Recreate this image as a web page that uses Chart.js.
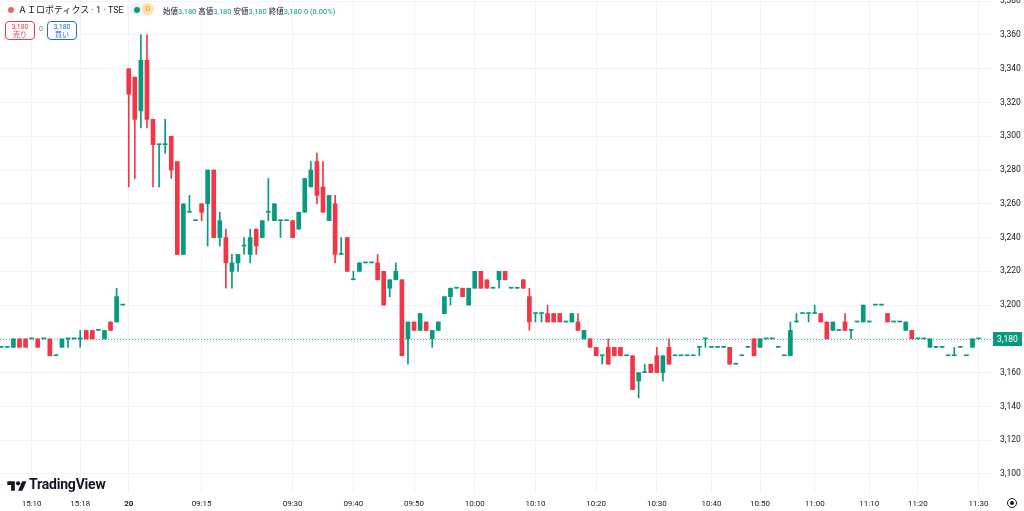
<!DOCTYPE html>
<html>
<head>
<meta charset="utf-8">
<script src="https://cdn.jsdelivr.net/npm/chart.js@4"></script>
<style>
  html, body { margin: 0; padding: 0; background: #fff; }
  #wrap { position: relative; width: 1024px; height: 511px; overflow: hidden;
          font-family: Roboto, "Noto Sans CJK JP", sans-serif; color: #131722; }
  #c { position: absolute; left: 0; top: 0; }
  .abs { position: absolute; white-space: nowrap; }
  .dot { display: inline-block; width: 6px; height: 6px; border-radius: 50%; }
  .up { color: #089981; }
  .btn { position: absolute; top: 21px; width: 28px; height: 16px; border-radius: 4px;
         font-size: 7px; line-height: 8px; text-align: center; padding-top: 1px; background: #fff; }
</style>
</head>
<body>
<div id="wrap">
  <canvas id="c" width="1024" height="511"></canvas>

  <!-- legend, top left -->
  <span class="abs dot" style="left:8px;top:7px;background:#f23645;opacity:.8"></span>
  <span class="abs" style="left:18px;top:3px;font-size:9px;">ＡＩロボティクス · 1 · TSE</span>
  <span class="abs" style="left:130px;top:3px;width:23px;height:13px;border-radius:7px;background:#f0f3fa;"></span>
  <span class="abs dot" style="left:134px;top:7px;background:#089981;"></span>
  <span class="abs" style="left:142px;top:3px;width:12px;height:12px;border-radius:50%;background:#ffe0b2;color:#ff9800;font-size:7.5px;line-height:12px;text-align:center;">D</span>
  <span class="abs" style="left:163px;top:5px;font-size:7.5px;">始値<span class="up">3,180</span> 高値<span class="up">3,180</span> 安値<span class="up">3,180</span> 終値<span class="up">3,180</span> <span class="up">0 (0.00%)</span></span>

  <div class="btn" style="left:5px;border:1px solid #f23645;color:#f23645;">3,180<br>売り</div>
  <span class="abs" style="left:39px;top:25px;font-size:7px;color:#787b86;">0</span>
  <div class="btn" style="left:47px;border:1px solid #2962ff;color:#2962ff;">3,180<br>買い</div>

  <!-- logo -->
  <svg class="abs" style="left:7px;top:479px" width="20" height="14" viewBox="0 0 36 26">
    <path d="M14 22H7V11H0V4h14v18z" fill="#131722"/>
    <circle cx="20" cy="8" r="4" fill="#131722"/>
    <path d="M28 22h-8l7.5-18h8L28 22z" fill="#131722"/>
  </svg>
  <span class="abs" style="left:29px;top:476px;font-size:14px;font-weight:700;letter-spacing:-0.2px;">TradingView</span>

  <!-- settings icon, bottom right -->
  <span class="abs" style="left:1007px;top:498px;width:8px;height:8px;border:1px solid #131722;border-radius:50%;"></span>
  <span class="abs" style="left:1010px;top:501px;width:4px;height:4px;background:#131722;border-radius:50%;"></span>
</div>

<script>
// time axis: bar index -> label
const tickIdx  = [5, 13, 21, 33, 48, 58, 68, 78, 88, 98, 108, 117, 125, 134, 143, 151, 161];
const tickText = ['15:10', '15:18', '20', '09:15', '09:30', '09:40', '09:50', '10:00', '10:10',
                  '10:20', '10:30', '10:40', '10:50', '11:00', '11:10', '11:20', '11:30'];
const priceTicks = [3100, 3120, 3140, 3160, 3180, 3200, 3220, 3240, 3260, 3280, 3300, 3320, 3340, 3360, 3380];

// 1 minute bars
const opens = [
  3175,3175,3175,3180,3180,3180,3180,3180,3180,3170,
  3175,3180,3180,3180,3185,3185,3185,3180,3190,3190,
  3200,3340,3335,3315,3345,3310,3295,3295,3300,3285,
  3230,3255,3250,3260,3260,3280,3240,3240,3220,3225,
  3235,3230,3245,3240,3255,3250,3250,3250,3250,3245,
  3255,3270,3285,3270,3250,3260,3230,3240,3215,3220,
  3225,3225,3225,3220,3210,3215,3215,3180,3190,3185,
  3190,3180,3185,3195,3205,3210,3210,3200,3210,3220,
  3215,3210,3215,3220,3210,3210,3215,3205,3195,3195,
  3195,3195,3195,3190,3190,3190,3180,3180,3175,3170,
  3175,3175,3175,3170,3170,3155,3160,3165,3170,3160,
  3175,3170,3170,3170,3170,3175,3180,3175,3175,3175,
  3175,3165,3170,3175,3180,3175,3180,3180,3175,3170,
  3170,3190,3195,3195,3195,3195,3190,3185,3185,3190,
  3185,3190,3190,3190,3200,3200,3195,3190,3190,3185,
  3185,3180,3180,3175,3175,3175,3170,3170,3175,3170,
  3175,3180
];
const highs = [
  3175,3175,3180,3180,3180,3180,3180,3180,3180,3170,
  3180,3180,3180,3185,3185,3185,3185,3185,3190,3210,
  3200,3340,3335,3360,3360,3310,3295,3310,3300,3285,
  3260,3265,3250,3260,3280,3280,3255,3245,3230,3230,
  3240,3245,3245,3250,3275,3260,3250,3250,3250,3255,
  3275,3285,3290,3285,3265,3265,3240,3240,3220,3225,
  3225,3225,3230,3220,3215,3225,3215,3190,3190,3195,
  3190,3185,3190,3205,3210,3210,3210,3210,3220,3220,
  3215,3210,3220,3220,3210,3210,3215,3210,3195,3195,
  3200,3195,3195,3190,3195,3195,3185,3180,3175,3170,
  3180,3175,3175,3170,3170,3160,3165,3165,3175,3170,
  3180,3170,3170,3170,3170,3175,3180,3175,3175,3175,
  3175,3165,3170,3175,3180,3180,3180,3180,3175,3170,
  3190,3195,3195,3195,3200,3195,3190,3190,3185,3195,
  3185,3190,3200,3190,3200,3200,3195,3190,3190,3190,
  3185,3180,3180,3180,3175,3175,3170,3175,3175,3170,
  3180,3180
];
const lows = [
  3175,3175,3175,3175,3175,3180,3175,3180,3170,3170,
  3175,3175,3180,3175,3180,3180,3185,3180,3185,3190,
  3200,3270,3275,3305,3305,3270,3270,3290,3275,3230,
  3230,3255,3250,3250,3235,3240,3235,3210,3210,3220,
  3230,3225,3230,3240,3250,3250,3240,3250,3240,3245,
  3255,3270,3260,3255,3250,3225,3230,3220,3215,3220,
  3225,3225,3215,3200,3205,3215,3170,3165,3185,3185,
  3185,3175,3185,3195,3200,3210,3205,3200,3210,3210,
  3210,3210,3210,3215,3210,3210,3210,3185,3190,3190,
  3190,3190,3190,3190,3190,3185,3180,3175,3170,3165,
  3165,3170,3170,3170,3150,3145,3160,3160,3160,3155,
  3165,3170,3170,3170,3170,3170,3175,3175,3175,3175,
  3165,3165,3170,3175,3170,3175,3180,3180,3175,3170,
  3170,3190,3195,3190,3195,3190,3180,3185,3185,3185,
  3180,3190,3190,3190,3200,3200,3190,3190,3190,3185,
  3180,3180,3180,3175,3175,3175,3170,3170,3175,3170,
  3175,3180
];
const closes = [
  3175,3175,3180,3175,3175,3180,3175,3180,3170,3170,
  3180,3180,3180,3180,3180,3180,3185,3185,3185,3205,
  3200,3325,3310,3345,3310,3295,3295,3295,3280,3230,
  3260,3255,3250,3255,3280,3240,3250,3225,3225,3230,
  3235,3240,3235,3250,3255,3260,3250,3250,3240,3255,
  3275,3280,3265,3255,3265,3230,3230,3220,3215,3225,
  3225,3225,3215,3200,3215,3220,3170,3190,3185,3195,
  3185,3185,3190,3205,3210,3210,3205,3210,3220,3210,
  3210,3210,3220,3215,3210,3210,3210,3190,3195,3195,
  3190,3190,3190,3190,3195,3185,3185,3175,3170,3170,
  3165,3170,3170,3170,3150,3160,3160,3160,3160,3170,
  3165,3170,3170,3170,3170,3175,3180,3175,3175,3175,
  3165,3165,3170,3175,3170,3180,3180,3180,3175,3170,
  3185,3190,3195,3195,3195,3190,3180,3190,3185,3185,
  3185,3190,3200,3190,3200,3200,3190,3190,3190,3190,
  3180,3180,3180,3180,3175,3175,3170,3170,3175,3170,
  3180,3180
];

const UP = '#089981', DOWN = '#f23645';
const colors = closes.map((c, i) => c >= opens[i] ? UP : DOWN);
const lastClose = closes[closes.length - 1];

// dotted last-price line under the candles, price tag on the axis
const lastPrice = {
  id: 'lastPrice',
  beforeDatasetsDraw(chart) {
    const { ctx, chartArea, scales } = chart;
    const y = Math.round(scales.y.getPixelForValue(lastClose)) + 0.5;
    ctx.save();
    ctx.strokeStyle = 'rgba(8,153,129,0.8)';
    ctx.lineWidth = 1;
    ctx.setLineDash([1, 2]);
    ctx.beginPath();
    ctx.moveTo(chartArea.left, y);
    ctx.lineTo(chartArea.right, y);
    ctx.stroke();
    ctx.restore();
  },
  afterDraw(chart) {
    const { ctx, chartArea, scales } = chart;
    const y = Math.round(scales.y.getPixelForValue(lastClose));
    ctx.save();
    ctx.fillStyle = UP;
    ctx.fillRect(chartArea.right + 2, y - 7, 29, 14);
    ctx.fillStyle = '#fff';
    ctx.font = '8.5px Roboto';
    ctx.textAlign = 'center';
    ctx.textBaseline = 'middle';
    ctx.fillText(lastClose.toLocaleString('en-US'), chartArea.right + 16.5, y + 0.5);
    ctx.restore();
  }
};

const idx = closes.map((_, i) => i);

new Chart(document.getElementById('c'), {
  type: 'bar',
  data: {
    datasets: [
      {
        label: 'wick',
        data: idx.map(i => ({ x: i, y: [lows[i], highs[i]] })),
        backgroundColor: colors,
        barThickness: 1,
        grouped: false,
        order: 2
      },
      {
        label: 'body',
        data: idx.map(i => ({ x: i, y: [opens[i], closes[i]] })),
        backgroundColor: colors,
        barThickness: 4,
        minBarLength: 1,
        grouped: false,
        order: 1
      }
    ]
  },
  options: {
    responsive: false,
    animation: false,
    devicePixelRatio: 1,
    layout: { padding: 0 },
    plugins: { legend: { display: false }, tooltip: { enabled: false } },
    scales: {
      x: {
        type: 'linear',
        offset: false,
        min: -0.21,
        max: 163.05,
        afterBuildTicks: s => { s.ticks = tickIdx.map(v => ({ value: v })); },
        afterFit: s => { s.height = 19; s.paddingLeft = 0; s.paddingRight = 0; },
        grid: { color: '#f0f3fa', drawTicks: false, offset: false },
        border: { display: false },
        ticks: {
          autoSkip: false,
          maxRotation: 0,
          padding: 7,
          color: '#131722',
          font: c => ({ size: 8, family: 'Roboto', weight: (c.tick && c.tick.value === 21) ? 'bold' : 'normal' }),
          callback: v => tickText[tickIdx.indexOf(v)]
        }
      },
      y: {
        position: 'right',
        min: 3089.3,
        max: 3380.7,
        afterBuildTicks: s => { s.ticks = priceTicks.map(v => ({ value: v })); },
        afterFit: s => { s.width = 33; s.paddingTop = 0; s.paddingBottom = 0; },
        grid: { color: '#f0f3fa', drawTicks: false },
        border: { display: false },
        ticks: {
          padding: 9,
          color: '#131722',
          font: { size: 8.5, family: 'Roboto' },
          callback: v => v.toLocaleString('en-US')
        }
      }
    }
  },
  plugins: [lastPrice]
});
</script>
</body>
</html>
